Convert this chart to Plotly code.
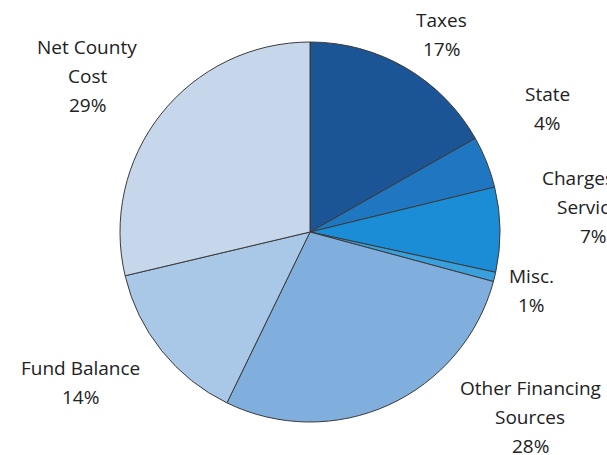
import plotly.graph_objects as go

categories = ["Taxes", "State", "Charges for Services", "Misc.",
              "Other Financing Sources", "Fund Balance", "Net County Cost"]
values = [16.8, 4.4, 7.2, 0.8, 28.0, 14.1, 28.7]
label_lines = [["Taxes"], ["State"], ["Charges for", "Services"], ["Misc."],
               ["Other Financing", "Sources"], ["Fund Balance"], ["Net County", "Cost"]]
colors = ["#1C5596", "#1F77C2", "#1B8DD6", "#3A9FDD",
          "#80AEDD", "#A9C8E7", "#C6D7EB"]

# label block: centre x, centre y of first line, in pixels (layout only)
label_pos = [(441, 20), (547, 94), (593, 178), (531, 276),
             (530, 388), (80, 368), (87, 47)]
line_gap = 29

W, H = 607, 455
fig = go.Figure()
fig.add_trace(go.Pie(
    labels=categories, values=values, sort=False, direction="clockwise",
    rotation=0, textinfo="none", hoverinfo="label+percent",
    marker=dict(colors=colors, line=dict(color="#3a3a3a", width=1)),
    domain=dict(x=[(310 - 190) / W, (310 + 190) / W],
                y=[1 - 422 / H, 1 - 42 / H]),
    showlegend=False,
))

total = sum(values)
for lines, v, (px, py) in zip(label_lines, values, label_pos):
    pct = f"{round(v / total * 100)}%"
    for i, line in enumerate(lines + [pct]):
        fig.add_annotation(x=px / W, y=1 - (py + i * line_gap) / H,
                           xref="paper", yref="paper",
                           text=line, showarrow=False, xanchor="center",
                           yanchor="middle", align="center",
                           font=dict(family="Open Sans, sans-serif",
                                     size=19, color="#222222"))

fig.update_layout(width=W, height=H, margin=dict(l=0, r=0, t=0, b=0),
                  paper_bgcolor="white", plot_bgcolor="white")
fig.write_html("out.html")
